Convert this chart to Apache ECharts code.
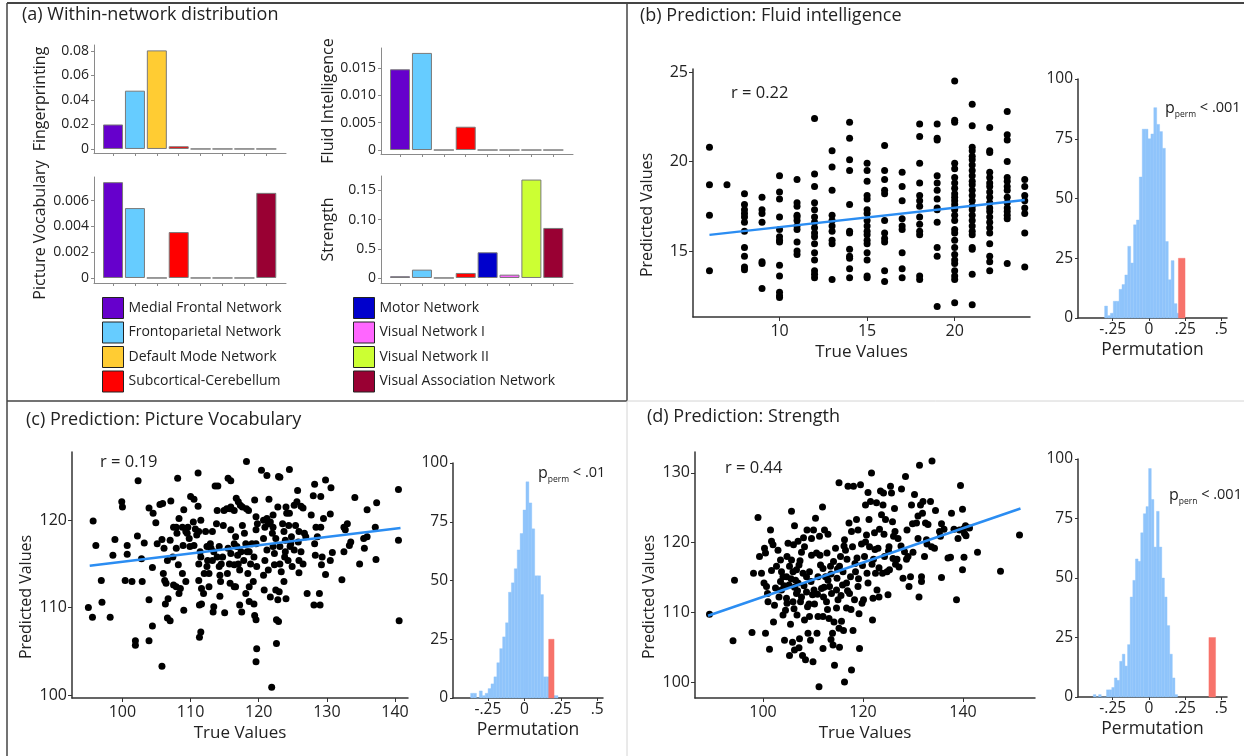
<!DOCTYPE html>
<html><head><meta charset="utf-8">
<script src="https://cdn.jsdelivr.net/npm/echarts@6/dist/echarts.min.js"></script>
<style>html,body{margin:0;padding:0;background:#fff}#c{width:1244px;height:756px}</style>
</head><body><div id="c"></div>
<script>
// ---------- DATA ----------
const networks = ['Medial Frontal Network','Frontoparietal Network','Default Mode Network','Subcortical-Cerebellum','Motor Network','Visual Network I','Visual Network II','Visual Association Network'];
const networkColors = ['#6600cc','#66ccff','#ffcc33','#ff0000','#0000cc','#ff66ff','#ccff33','#990033'];

const fingerprinting    = [0.0200, 0.0476, 0.0805, 0.0022, 0, 0, 0, 0];
const pictureVocabulary = [0.00743, 0.00542, 0, 0.00356, 0, 0, 0, 0.0066];
const fluidIntelligence = [0.0148, 0.0178, 0, 0.00427, 0, 0, 0, 0];
const strength          = [0.003, 0.0143, 0, 0.0086, 0.044, 0.0057, 0.1686, 0.0857];

const fpTicks = [0, 0.02, 0.04, 0.06, 0.08];      const fpTickLabels = ['0','0.02','0.04','0.06','0.08'];
const pvTicks = [0, 0.002, 0.004, 0.006];         const pvTickLabels = ['0','0.002','0.004','0.006'];
const fiTicks = [0, 0.005, 0.010, 0.015];         const fiTickLabels = ['0','0.005','0.010','0.015'];
const stTicks = [0, 0.05, 0.10, 0.15];            const stTickLabels = ['0','0.5','0.10','0.15'];

// (b) Fluid intelligence: true values and predicted values at each true value
const bTrue = [6,7,8,9,10,11,12,13,14,15,16,17,18,19,20,21,22,23,24];
const bPred = [
 [20.8,18.7,17.0,13.9],
 [18.7],
 [18.2,17.6,17.3,17.1,16.9,16.6,16.1,15.2,14.7,14.1,13.95],
 [18.0,17.3,17.1,16.6,14.4,14.3,12.9],
 [19.2,18.3,17.9,16.9,16.2,15.8,15.6,15.5,14.2,13.6,12.7,12.5,12.4],
 [19.0,17.7,17.5,17.0,16.9,16.7,16.4,16.2,15.5,15.0,14.8],
 [22.4,19.3,18.6,17.7,17.3,16.9,16.6,16.3,16.0,15.8,15.4,14.9,14.5,13.9,13.7,13.5],
 [20.6,19.7,18.4,17.0,16.7,16.4,16.1,15.6,15.4,13.4],
 [22.2,21.3,20.1,19.5,17.6,16.1,16.0,15.1,14.7,14.6,14.0,13.5],
 [19.9,19.5,18.9,18.1,17.9,17.3,17.1,16.7,16.4,16.1,15.9,15.6,15.4,14.9,14.5,13.6,13.5],
 [20.9,19.5,19.0,18.4,18.2,16.7,16.0,15.7,15.5,13.9,13.3],
 [19.4,18.6,17.8,16.8,16.4,16.2,14.9,14.0,13.5],
 [22.1,21.4,19.9,18.8,18.1,17.8,17.5,16.9,16.5,16.1,15.9,13.6,13.4],
 [22.1,21.3,21.2,19.2,18.8,18.4,17.9,17.4,17.3,16.6,15.2,14.7,11.9],
 [24.5,22.3,22.2,19.9,19.6,19.1,18.8,18.5,18.2,18.0,17.8,17.6,17.4,17.3,17.0,16.7,16.2,16.0,15.6,15.2,14.8,14.5,14.3,13.9,13.6,13.4,12.1],
 [23.2,22.0,20.8,20.6,20.3,20.1,19.8,19.5,19.2,18.9,18.7,18.4,18.1,17.8,17.5,17.3,17.0,16.7,16.4,16.1,15.9,15.2,15.1,13.7,12.0],
 [21.9,20.6,20.5,19.4,19.1,18.8,18.6,18.3,18.0,17.7,17.4,17.2,16.9,16.6,16.3,16.0,15.4,14.7,14.4,13.9],
 [22.8,21.5,21.2,20.0,19.1,18.9,18.6,18.4,18.0,17.7,17.4,17.2,17.0,16.8,14.3],
 [19.0,18.6,18.1,17.8,17.4,17.1,16.0,14.1]
];
const bFit = [[6, 15.9], [24, 17.85]];

// (c) Picture vocabulary: [true, predicted]
const cPoints = [
[95,110.0],[95.6,108.9],[95.7,119.9],[96.1,117.1],[96.9,113.1],[97.0,110.6],[98.2,108.9],[98.9,117.8],[98.6,116.0],[99.9,122.1],[100,121.5],
[100.7,117.1],[100.7,116.1],[100.4,113.1],[101.4,113.0],[101.9,106.2],[101.9,105.7],[102.3,124.5],[102.2,118.2],[102.9,113.0],[103.2,117.4],[102.8,115.6],[103.9,121.4],[104.5,120.8],[103.9,106.2],[104.4,107.9],[104.4,114.6],[104.9,119.7],
[105.8,103.3],[105.9,121.9],[105.5,121.8],[105.8,117.8],[106.1,116.8],[106.0,113.9],[106.2,113.1],[106.4,112.8],[106.3,110.4],[106.7,111.0],[107.0,108.5],[107.1,122.2],[107.0,117.7],[107.4,115.8],[107.5,112.6],[107.9,112.4],[108.5,112.2],[108.1,124.8],[107.9,119.2],[108.0,118.5],[108.3,120.2],[107.9,116.8],[108.2,114.9],[108.8,113.9],[109.0,121.2],[109.0,109.7],[108.9,117.1],[109.3,113.0],[109.5,118.5],[109.6,119.2],[109.9,117.0],[109.8,117.9],
[110,122.7],[110.5,122.4],[111.1,125.4],[111.1,121.6],[110.4,119.8],[110.7,119.0],[110.9,118.3],[111.2,118.7],[111.5,120.0],[110.5,117.1],[111.4,116.4],[111.5,115.8],[111.2,115.0],[111.2,113.1],[111.6,112.2],[111.9,111.6],[111.3,110.3],[111.6,110.4],[111.5,107.2],[111.3,106.6],[112.2,118.7],[112.4,117.0],[112.5,115.4],[112.4,114.7],[112.7,113.9],[113.2,115.4],[113.4,116.4],[113.6,123.9],[114.0,123.9],[113.2,118.7],[113.4,110.1],[113.3,109.5],[113.9,121.1],[113.8,119.6],[114.2,117.0],[114.3,113.7],[114.3,111.3],[114.5,115.0],[114.7,115.8],[115.0,109.4],[114.8,119.4],[114.9,121.1],
[115.5,124.8],[115.9,124.5],[115.3,121.3],[115.8,121.3],[115.9,121.5],[116.4,121.1],[116.7,122.5],[117.0,122.1],[117.3,121.7],[117.6,121.5],[118.2,121.3],[118.5,121.1],[115.9,118.9],[115.5,116.8],[115.9,116.2],[115.7,115.0],[115.4,113.9],[115.8,112.8],[116.4,117.3],[116.6,118.1],[116.8,117.0],[116.9,116.0],[117.0,115.0],[117.2,114.3],[116.6,112.4],[117.2,110.3],[117.5,109.5],[117.6,119.4],[117.9,118.5],[118.1,117.3],[118.3,116.4],[118.6,116.4],[118.2,126.7],[118.4,113.9],[118.6,112.4],[118.8,115.0],[118.6,110.7],[119.2,113.0],[119.6,120.4],[119.4,122.3],[119.8,119.6],[119.6,118.9],[119.6,117.3],[119.7,114.7],[119.4,109.1],[119.6,108.6],[119.7,105.3],[119.6,103.8],
[120.4,125.7],[121.2,125.1],[121.5,122.4],[120.7,120.0],[120.9,119.2],[121.2,120.2],[121.4,119.6],[121.7,119.8],[120.7,117.9],[121.2,116.6],[120.9,115.4],[121.4,114.3],[120.7,113.7],[121.7,111.2],[121.9,100.9],[122.1,120.6],[122.0,118.5],[122.1,117.0],[122.3,116.2],[122.3,114.9],[122.5,112.0],[122.8,121.5],[122.9,125.0],[123.1,124.9],[122.8,110.9],[122.6,108.6],[122.9,108.4],[122.6,105.9],[123.0,111.8],[123.1,115.0],[123.3,114.1],[123.5,119.6],[123.7,118.7],[124.0,121.5],[124.1,120.8],[123.9,117.7],[123.9,116.4],[124.0,111.0],[124.5,125.8],[124.4,119.4],[124.6,117.0],[124.8,118.1],[124.9,114.7],[124.5,120.8],
[125.2,121.7],[125.6,122.1],[125.7,123.4],[126.2,121.6],[126.5,121.4],[125.4,119.4],[125.8,117.5],[125.9,115.4],[125.9,114.0],[126.2,116.4],[126.5,115.0],[126.7,118.5],[127.1,111.6],[127.7,120.6],[128.0,122.8],[128.2,124.1],[128.3,116.0],[128.1,110.3],[128.4,119.2],[128.6,118.1],[128.9,111.6],[129.1,122.7],[129.0,110.3],[129.2,114.9],[129.3,115.8],[129.5,120.2],[129.8,124.6],[129.8,113.8],
[130.5,120.7],[130.6,123.7],[130.8,116.3],[132.2,113.2],[132.5,119.2],[133.0,119.6],[132.7,118.9],[133.3,117.1],[133.5,117.5],[134.1,122.6],[134.8,115.0],[135.4,117.9],[135.5,116.8],[135.9,121.2],[137.3,122.0],[137.2,115.5],[140.5,123.5],[140.5,117.7],[140.6,108.5],
[108.8,119.2],[109.3,118.7],[107.5,119.2],[112.9,117.3],[113.0,116.8],[113.9,115.8],[114.2,114.7],[114.4,113.0],[112.7,112.4],[112.0,113.9],[116.4,114.9],[117.4,116.4],[117.8,115.4],[119.0,117.3],[119.3,115.8],[122.1,119.2],[122.5,117.9],[123.1,117.0],[123.8,115.8],[124.3,115.4],[124.7,117.3],[125.2,116.6],[125.9,118.7],[126.9,118.1],[128.2,117.3],[129.1,119.2],[130.5,115.4],[132.5,116.4],[135.9,118.1],[137.1,119.2],[105.1,117.3],[106.6,115.4],[108.3,111.6],[106.6,108.8],[103.9,110.9],[116.4,112.4],[118.1,111.6],[119.3,110.4],[120.8,112.0],[123.7,113.0]
];
const cFit = [[95.2, 114.8], [140.8, 119.1]];

// (d) Strength: [true, predicted]
const dPoints = [
[89.3,109.7],[94.0,105.9],[94.3,114.6],[97.8,107.1],[99.0,123.6],[98.1,115.6],[99.3,118.0],[99.7,115.6],
[100.5,107.0],[101.3,104.7],[100.3,119.2],[100.5,118.5],[100.2,114.2],[100.7,113.7],[101.0,111.5],[101.5,121.8],[101.7,120.2],[102.0,119.7],[102.3,111.0],[102.7,116.6],[103.0,118.9],[103.2,112.2],[103.5,114.4],[103.7,113.2],[104.0,115.1],[104.3,106.0],[104.5,110.3],[104.7,112.0],[104.8,118.0],[105.0,119.9],[105.2,113.9],[105.3,103.8],[105.5,108.3],[105.7,124.5],[105.9,105.7],[106.0,115.8],[106.1,119.7],[106.3,122.4],[106.3,104.6],[106.5,114.6],[106.7,112.7],[106.8,109.6],[107.0,120.2],[107.2,116.8],[107.3,106.2],[107.5,111.5],[107.7,118.6],[107.9,103.8],[108.0,115.6],[108.1,120.7],[108.3,108.9],[108.5,103.2],[108.7,112.9],[108.8,121.8],[109.0,107.0],[109.2,111.2],[109.3,115.8],[109.5,106.0],[109.7,120.6],[109.9,112.5],[109.7,118.2],[106.0,111.5],[106.3,113.6],[105.3,116.6],[104.7,115.1],[103.7,115.8],[105.7,117.5],[106.7,116.1],[107.0,114.2],[107.7,112.2],[108.3,119.4],[108.7,115.1],[109.3,109.4],
[110.1,121.8],[110.3,111.2],[110.5,123.5],[110.7,118.5],[110.8,107.0],[111.0,109.4],[111.2,99.3],[111.3,120.9],[111.5,116.8],[111.7,113.4],[111.9,125.1],[112.0,109.4],[112.0,104.8],[112.1,112.2],[112.3,121.8],[112.5,115.1],[112.7,111.5],[112.8,118.5],[113.0,121.2],[113.2,109.1],[113.3,113.7],[113.5,116.6],[113.7,112.7],[113.9,107.0],[114.0,105.3],[114.1,117.3],[114.3,102.4],[114.5,119.2],[114.7,110.6],[114.8,114.9],[115.0,111.8],[115.2,107.7],[115.2,128.6],[115.3,105.0],[115.5,118.0],[115.7,108.7],[115.9,113.9],[116.0,115.8],[116.1,107.4],[116.3,100.0],[116.5,118.9],[116.7,110.6],[116.8,117.6],[117.0,128.1],[117.2,122.8],[117.3,112.7],[117.5,115.1],[117.7,101.7],[117.9,119.4],[118.0,107.4],[118.1,128.1],[118.3,111.8],[118.5,115.8],[118.7,123.3],[118.8,117.8],[119.0,113.7],[119.2,109.8],[119.3,104.8],[119.5,128.3],[119.7,119.8],[119.9,116.7],[119.0,121.8],[117.7,121.6],[116.3,120.4],[115.3,116.6],[116.7,114.2],[114.7,113.2],[113.0,114.6],[112.0,116.3],[111.0,115.1],
[120.1,111.8],[120.3,118.0],[120.5,125.4],[120.7,121.1],[120.8,115.6],[121.0,127.2],[121.2,123.3],[121.3,119.4],[121.5,125.9],[121.7,130.0],[121.9,108.9],[122.0,112.0],[122.1,117.6],[122.3,121.4],[122.5,115.6],[122.7,125.7],[122.8,113.2],[123.0,119.2],[123.2,112.2],[123.3,121.9],[123.5,127.4],[123.7,124.0],[123.9,115.6],[124.0,125.4],[124.1,127.1],[124.3,118.0],[124.5,123.3],[124.8,115.8],[125.0,112.5],[125.2,119.4],[125.3,116.1],[125.5,128.1],[125.7,127.1],[125.9,123.0],[126.0,117.7],[126.1,120.9],[126.3,124.9],[126.5,116.9],[126.8,117.6],[127.0,120.6],[127.2,116.5],[127.7,127.7],[128.0,114.9],[128.3,118.7],[128.5,129.5],[128.7,117.6],[129.0,118.0],[129.2,113.7],[129.5,115.1],[129.7,125.4],[129.9,122.7],
[130.3,126.9],[130.7,122.8],[131.0,120.6],[131.2,112.2],[131.3,131.1],[131.5,125.4],[131.7,115.1],[131.7,114.4],[131.9,124.2],[132.0,125.9],[132.3,118.0],[132.5,122.8],[132.7,120.4],[133.0,122.6],[133.5,125.9],[133.8,131.7],[133.7,119.4],[134.3,119.2],[135.3,121.6],[135.5,120.9],[135.7,122.7],[135.7,115.0],[137.0,117.8],[137.5,117.9],[137.7,124.2],[138.7,111.8],[139.0,120.6],[139.3,121.8],[139.5,128.2],[139.9,124.8],[139.9,116.1],[140.1,122.0],[140.2,117.9],[140.3,121.3],[140.5,122.4],[141.3,122.1],[142.9,118.6],[147.5,115.9],[151.3,121.1],
[102.5,113.5],[103.5,117.5],[104.2,113.8],[104.8,111.3],[105.6,114.8],[106.2,110.5],[106.9,113.1],[107.4,117.4],[108.2,113.8],[108.9,110.8],[109.6,114.4],[110.2,113.2],[110.9,112.6],[111.4,118.2],[112.2,113.6],[112.9,110.4],[113.6,115.5],[114.2,108.6],[114.9,116.2],[115.6,112.4],[116.2,119.5],[116.9,113.1],[117.6,110.4],[118.4,117.0],[119.1,114.8],[119.8,111.3],[120.5,120.1],[121.0,114.2],[121.8,116.9],[122.4,119.0],[123.2,116.4],[124.2,121.2],[125.1,118.8],[126.4,121.6],[127.6,119.5],[128.8,121.8],[130.0,118.6],[131.0,123.8],[132.8,119.8],[134.5,124.6],[136.2,121.9],[138.2,121.9],[140.6,121.0],[104.0,109.6],[102.1,108.6],[107.2,104.9],[110.0,102.9],[113.6,106.1],[101.7,116.0],[100.9,112.7]
];
const dFit = [[89, 109.5], [151.5, 124.9]];

// permutation histograms (bin start, bin width, counts) and observed-r bar
const bHistStart = -0.306, bHistWidth = 0.02;
const bHistCounts = [5,1,2,7,7,12,14,18,30,23,39,41,59,79,79,75,77,88,81,78,71,32,16,24,6,2];
const bObserved = [0.204, 0.25, 25];
const cHistStart = -0.369, cHistWidth = 0.02;
const cHistCounts = [2,2,0,3,1,2,4,6,9,15,21,26,32,45,49,55,63,70,80,92,83,72,52,52,44,9,9,2,1,1];
const cObserved = [0.167, 0.204, 25];
const dHistStart = -0.384, dHistWidth = 0.0182;
const dHistCounts = [1,0,1,0,0,3,3,4,8,7,15,18,13,22,42,49,58,57,69,77,80,96,83,63,78,63,50,42,30,18,8,1];
const dObserved = [0.415, 0.461, 25];

const histYTicks = [0, 25, 50, 75, 100];
const histXTicks = [-0.25, 0, 0.25, 0.5];
const histXTickLabels = ['-.25', '0', '.25', '.5'];

// ---------- CHART ----------
const FONT = '"Open Sans", "Liberation Sans", sans-serif';
const TXT = '#222';
const chart = echarts.init(document.getElementById('c'), null, {renderer: 'canvas'});

const grids = [], xAxes = [], yAxes = [], series = [];
const labelFor = (ticks, labels) => (v) => {
  for (let i = 0; i < ticks.length; i++) if (Math.abs(ticks[i] - v) < 1e-9) return labels[i];
  return '';
};

function miniBar(pos, values, yMin, yMax, ticks, labels, name, nameGap) {
  const gi = grids.length;
  grids.push(Object.assign({containLabel: false}, pos));
  xAxes.push({
    gridIndex: gi, type: 'value', min: -0.87, max: 7.9,
    axisLine: {show: true, onZero: false, lineStyle: {color: '#8a8a8a', width: 1}},
    axisTick: {show: true, customValues: [0,1,2,3,4,5,6,7], length: 3, lineStyle: {color: '#8a8a8a'}},
    axisLabel: {show: false}, splitLine: {show: false}
  });
  yAxes.push({
    gridIndex: gi, type: 'value', min: yMin, max: yMax,
    name: name, nameLocation: 'middle', nameGap: nameGap, nameRotate: 90,
    nameTextStyle: {fontFamily: FONT, fontSize: 16, color: TXT},
    axisLine: {show: true, onZero: false, lineStyle: {color: '#8a8a8a', width: 1}},
    axisTick: {show: true, customValues: ticks, length: 3, lineStyle: {color: '#8a8a8a'}},
    axisLabel: {customValues: ticks, formatter: labelFor(ticks, labels), fontFamily: FONT, fontSize: 14, color: TXT, margin: 5},
    splitLine: {show: false}
  });
  series.push({
    type: 'bar', xAxisIndex: gi, yAxisIndex: gi, barWidth: 20,
    data: values.map((v, i) => ({value: [i, v], itemStyle: {color: networkColors[i]}})),
    itemStyle: {borderColor: '#7a7a7a', borderWidth: 1},
    silent: true
  });
}

miniBar({left: 94, top: 45, width: 192, height: 108}, fingerprinting, -0.0033, 0.0849, fpTicks, fpTickLabels, 'Fingerprinting', 46);
miniBar({left: 94, top: 177, width: 192, height: 106}, pictureVocabulary, -0.00039, 0.00783, pvTicks, pvTickLabels, 'Picture Vocabulary', 46);
miniBar({left: 381, top: 48, width: 192, height: 106}, fluidIntelligence, -0.00073, 0.0187, fiTicks, fiTickLabels, 'Fluid Intelligence', 45);
miniBar({left: 381, top: 176, width: 192, height: 107}, strength, -0.0086, 0.1747, stTicks, stTickLabels, 'Strength', 45);

function scatterPanel(pos, xr, yr, xt, yt, points, fit) {
  const gi = grids.length;
  grids.push(Object.assign({containLabel: false}, pos));
  xAxes.push({
    gridIndex: gi, type: 'value', min: xr[0], max: xr[1],
    name: 'True Values', nameLocation: 'middle', nameGap: 27,
    nameTextStyle: {fontFamily: FONT, fontSize: 17, color: TXT},
    axisLine: {show: true, onZero: false, lineStyle: {color: '#333', width: 1.5}},
    axisTick: {show: true, customValues: xt, length: 4, lineStyle: {color: '#333'}},
    axisLabel: {customValues: xt, fontFamily: FONT, fontSize: 16, color: TXT, margin: 6},
    splitLine: {show: false}
  });
  yAxes.push({
    gridIndex: gi, type: 'value', min: yr[0], max: yr[1],
    name: 'Predicted Values', nameLocation: 'middle', nameGap: 38, nameRotate: 90,
    nameTextStyle: {fontFamily: FONT, fontSize: 16, color: TXT, padding: [0, 44, 0, 0]},
    axisLine: {show: true, onZero: false, lineStyle: {color: '#333', width: 1.5}},
    axisTick: {show: true, customValues: yt, length: 4, lineStyle: {color: '#333'}},
    axisLabel: {customValues: yt, fontFamily: FONT, fontSize: 16, color: TXT, margin: 5},
    splitLine: {show: false}
  });
  series.push({
    type: 'scatter', xAxisIndex: gi, yAxisIndex: gi, data: points,
    symbolSize: 7, itemStyle: {color: '#000', opacity: 1}, silent: true
  });
  series.push({
    type: 'line', xAxisIndex: gi, yAxisIndex: gi, data: fit, showSymbol: false,
    lineStyle: {color: '#2b8df2', width: 2.5}, silent: true, z: 3
  });
}

function histPanel(pos, start, width, counts, observed) {
  const gi = grids.length;
  grids.push(Object.assign({containLabel: false}, pos));
  xAxes.push({
    gridIndex: gi, type: 'value', min: -0.49, max: 0.54,
    name: 'Permutation', nameLocation: 'middle', nameGap: 23,
    nameTextStyle: {fontFamily: FONT, fontSize: 17.5, color: TXT},
    axisLine: {show: true, onZero: false, lineStyle: {color: '#333', width: 1.5}},
    axisTick: {show: true, customValues: histXTicks, length: 3, lineStyle: {color: '#333'}},
    axisLabel: {customValues: histXTicks, formatter: labelFor(histXTicks, histXTickLabels), fontFamily: FONT, fontSize: 15.5, color: TXT, margin: 4},
    splitLine: {show: false}
  });
  yAxes.push({
    gridIndex: gi, type: 'value', min: 0, max: 100,
    axisLine: {show: true, onZero: false, lineStyle: {color: '#333', width: 1.5}},
    axisTick: {show: true, customValues: histYTicks, length: 3, lineStyle: {color: '#333'}},
    axisLabel: {customValues: histYTicks, fontFamily: FONT, fontSize: 15.5, color: TXT, margin: 5},
    splitLine: {show: false}
  });
  const rect = (color) => (params, api) => {
    const p0 = api.coord([api.value(0), 0]);
    const p1 = api.coord([api.value(1), api.value(2)]);
    return {type: 'rect', shape: {x: p0[0], y: p1[1], width: p1[0] - p0[0], height: p0[1] - p1[1]},
      style: {fill: color, stroke: color, lineWidth: 0.4}};
  };
  series.push({
    type: 'custom', xAxisIndex: gi, yAxisIndex: gi, renderItem: rect('#8fc4fb'),
    data: counts.map((c, i) => [start + i * width, start + (i + 1) * width, c]),
    encode: {x: [0, 1], y: 2}, silent: true
  });
  series.push({
    type: 'custom', xAxisIndex: gi, yAxisIndex: gi, renderItem: rect('#f7736b'),
    data: [observed], encode: {x: [0, 1], y: 2}, silent: true, z: 3
  });
}

scatterPanel({left: 693, top: 69, width: 337, height: 248}, [5.06, 24.3], [11.31, 25.17], [10, 15, 20], [15, 20, 25],
  bTrue.flatMap((t, i) => bPred[i].map(p => [t, p])), bFit);
histPanel({left: 1078, top: 79, width: 149, height: 239}, bHistStart, bHistWidth, bHistCounts, bObserved);
scatterPanel({left: 72, top: 452, width: 336, height: 246}, [92.6, 141.9], [99.66, 127.8], [100, 110, 120, 130, 140], [100, 110, 120], cPoints, cFit);
histPanel({left: 453, top: 463, width: 150, height: 235}, cHistStart, cHistWidth, cHistCounts, cObserved);
scatterPanel({left: 695, top: 452, width: 340, height: 246}, [86.4, 154.4], [97.7, 133.0], [100, 120, 140], [100, 110, 120, 130], dPoints, dFit);
histPanel({left: 1078, top: 459, width: 149, height: 238}, dHistStart, dHistWidth, dHistCounts, dObserved);

// legend helper series (no data)
networks.forEach((n, i) => series.push({type: 'scatter', name: n, xAxisIndex: 0, yAxisIndex: 0, data: [], itemStyle: {color: networkColors[i], opacity: 1}}));

const legendCommon = {
  orient: 'vertical', itemWidth: 21, itemHeight: 21, itemGap: 2.5, padding: 0, icon: 'rect',
  itemStyle: {borderColor: '#222', borderWidth: 1, opacity: 1},
  textStyle: {fontFamily: FONT, fontSize: 14, color: TXT, padding: [0, 0, 0, 0]},
  selectedMode: false
};

const titleStyle = {fontFamily: FONT, fontSize: 18, fontWeight: 'normal', color: TXT};
const pStyle = (txt) => ({
  text: '{a|p}{b|' + txt[0] + '}{c| ' + txt[1] + '}',
  rich: {a: {fontFamily: FONT, fontSize: 16, fill: TXT, verticalAlign: 'middle'},
         b: {fontFamily: FONT, fontSize: 8.5, fill: TXT, verticalAlign: 'bottom', lineHeight: 22},
         c: {fontFamily: FONT, fontSize: 14.5, fill: TXT, verticalAlign: 'middle'}},
  verticalAlign: 'middle'
});

const option = {
  animation: false,
  backgroundColor: '#fff',
  title: [
    {text: '(a) Within-network distribution', left: 22, top: 6, padding: 0, textStyle: titleStyle},
    {text: '(b) Prediction: Fluid intelligence', left: 640, top: 7, padding: 0, textStyle: titleStyle},
    {text: '(c) Prediction: Picture Vocabulary', left: 26, top: 411, padding: 0, textStyle: titleStyle},
    {text: '(d) Prediction: Strength', left: 647, top: 408, padding: 0, textStyle: titleStyle}
  ],
  legend: [
    Object.assign({left: 102, top: 297, data: networks.slice(0, 4)}, legendCommon),
    Object.assign({left: 353, top: 297, data: networks.slice(4)}, legendCommon)
  ],
  grid: grids, xAxis: xAxes, yAxis: yAxes, series: series,
  graphic: [
    {type: 'line', shape: {x1: 7, y1: 3, x2: 1244, y2: 3}, style: {stroke: '#444', lineWidth: 2}},
    {type: 'line', shape: {x1: 7, y1: 3, x2: 7, y2: 756}, style: {stroke: '#444', lineWidth: 1.5}},
    {type: 'line', shape: {x1: 7, y1: 401, x2: 627, y2: 401}, style: {stroke: '#444', lineWidth: 1.5}},
    {type: 'line', shape: {x1: 627, y1: 3, x2: 627, y2: 401}, style: {stroke: '#444', lineWidth: 1.5}},
    {type: 'line', shape: {x1: 627, y1: 401, x2: 627, y2: 756}, style: {stroke: '#d4d4d4', lineWidth: 1}},
    {type: 'line', shape: {x1: 627, y1: 401, x2: 1244, y2: 401}, style: {stroke: '#d4d4d4', lineWidth: 1}},
    {type: 'text', x: 731, y: 93, style: {text: 'r = 0.22', fontFamily: FONT, fontSize: 16.5, fill: TXT, verticalAlign: 'middle'}},
    {type: 'text', x: 100, y: 462, style: {text: 'r = 0.19', fontFamily: FONT, fontSize: 16.5, fill: TXT, verticalAlign: 'middle'}},
    {type: 'text', x: 725, y: 468, style: {text: 'r = 0.44', fontFamily: FONT, fontSize: 16.5, fill: TXT, verticalAlign: 'middle'}},
    {type: 'text', x: 1165, y: 108, style: pStyle(['perm', '< .001'])},
    {type: 'text', x: 538, y: 473, style: pStyle(['perm', '< .01'])},
    {type: 'text', x: 1169, y: 495, style: pStyle(['pern', '< .001'])}
  ]
};
chart.setOption(option);
</script>
</body></html>
